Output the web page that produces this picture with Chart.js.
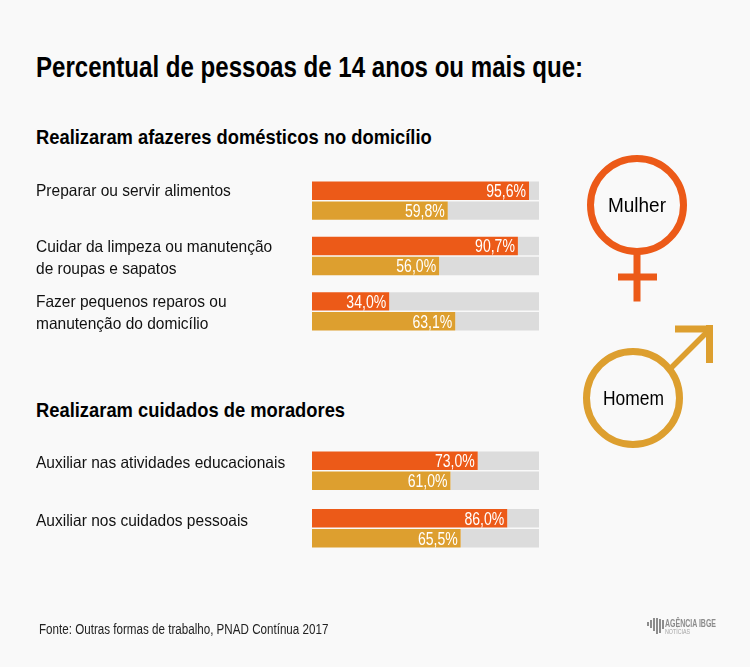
<!DOCTYPE html>
<html>
<head>
<meta charset="utf-8">
<script src="https://cdn.jsdelivr.net/npm/chart.js@4/dist/chart.umd.min.js"></script>
<style>
  html, body { margin: 0; padding: 0; background: #f9f9f9; }
  body { position: relative; width: 750px; height: 667px; overflow: hidden; font-family: "Liberation Sans", sans-serif; color: #000; }
  .txt { position: absolute; white-space: nowrap; transform-origin: left top; }
  canvas { position: absolute; left: 0; }
  svg { position: absolute; left: 0; top: 0; }
</style>
</head>
<body>
<div class="txt" style="left:36px;top:51px;font-size:29px;font-weight:bold;transform:scaleX(0.83)">Percentual de pessoas de 14 anos ou mais que:</div>
<div class="txt" style="left:36px;top:125px;font-size:21px;font-weight:bold;transform:scaleX(0.874)">Realizaram afazeres domésticos no domicílio</div>
<div class="txt" style="left:36px;top:398px;font-size:21px;font-weight:bold;transform:scaleX(0.874)">Realizaram cuidados de moradores</div>

<canvas id="grafica1" width="750" height="166" style="top:173px"></canvas>
<canvas id="grafica2" width="750" height="115" style="top:442px"></canvas>

<svg width="750" height="667" font-family="Liberation Sans">
  <circle cx="637" cy="205" r="46.5" fill="none" stroke="#ec5a18" stroke-width="7"/>
  <path d="M637 254V301.5M618 277H657" fill="none" stroke="#ec5a18" stroke-width="7"/>
  <circle cx="633" cy="398" r="46.5" fill="none" stroke="#dd9f2f" stroke-width="7"/>
  <path d="M671 368L709 330" fill="none" stroke="#dd9f2f" stroke-width="5.5"/>
  <path d="M675 329H713M709.5 325V363" fill="none" stroke="#dd9f2f" stroke-width="7"/>
  <text x="608" y="212" font-size="20" textLength="58" lengthAdjust="spacingAndGlyphs">Mulher</text>
  <text x="603" y="405" font-size="20" textLength="61" lengthAdjust="spacingAndGlyphs">Homem</text>
  <g fill="#8c8c8c">
    <rect x="647" y="622" width="2" height="4"/><rect x="650" y="620" width="2" height="8"/>
    <rect x="653" y="618" width="2" height="13"/><rect x="656" y="618" width="2" height="16"/>
    <rect x="659" y="619" width="2" height="14"/><rect x="662" y="620" width="2" height="9"/>
  </g>
  <text x="665" y="627" font-size="10" font-weight="bold" fill="#8c8c8c" textLength="51" lengthAdjust="spacingAndGlyphs">AGÊNCIA IBGE</text>
  <text x="665" y="634" font-size="7" fill="#a5a5a5" textLength="25" lengthAdjust="spacingAndGlyphs">NOTÍCIAS</text>
</svg>

<div class="txt" style="left:39px;top:621px;font-size:14px;color:#222;transform:scaleX(0.83)">Fonte: Outras formas de trabalho, PNAD Contínua 2017</div>

<script>
var afazeres = [
  ["Preparar ou servir alimentos", ""],
  ["Cuidar da limpeza ou manutenção", "de roupas e sapatos"],
  ["Fazer pequenos reparos ou", "manutenção do domicílio"]
];
var afazeresMulher = [95.6, 90.7, 34.0];
var afazeresHomem = [59.8, 56.0, 63.1];

var cuidados = [
  ["Auxiliar nas atividades educacionais", ""],
  ["Auxiliar nos cuidados pessoais", ""]
];
var cuidadosMulher = [73.0, 86.0];
var cuidadosHomem = [61.0, 65.5];

var corMulher = "#ec5a18";
var corHomem = "#dd9f2f";
var corResto = "#dcdcdc";

// texto estreito: nao ha fonte condensada instalada, entao escala em x
function textoEstreito(ctx, texto, x, y, escala){
  ctx.save();
  ctx.translate(x, y);
  ctx.scale(escala, 1);
  ctx.fillText(texto, 0, 0);
  ctx.restore();
}

var rotulos = {
  id: "rotulos",
  afterDatasetsDraw: function(chart, args, opts){
    var ctx = chart.ctx;
    ctx.save();
    ctx.textBaseline = "middle";

    // valores dentro da barra
    ctx.font = "18px 'Liberation Sans'";
    ctx.fillStyle = "#fff";
    ctx.textAlign = "right";
    chart.data.datasets.forEach(function(ds, i){
      if(!ds.comRotulo) return;
      chart.getDatasetMeta(i).data.forEach(function(bar, j){
        textoEstreito(ctx, ds.data[j].toFixed(1).replace(".", ",") + "%", bar.x - 3, bar.y + 1.5, 0.78);
      });
    });

    // categorias a esquerda
    ctx.font = "16.5px 'Liberation Sans'";
    ctx.fillStyle = "#111";
    ctx.textAlign = "left";
    var y = chart.scales.y;
    chart.data.labels.forEach(function(linhas, i){
      var centro = y.getPixelForTick(i);
      linhas.forEach(function(linha, k){
        textoEstreito(ctx, linha, 36, centro + 2 + (k - 0.5) * opts.alturaLinha, 0.94);
      });
    });
    ctx.restore();
  }
};

function resto(valores){
  return valores.map(function(v){ return 100 - v; });
}

function grafica(id, labels, mulher, homem, catPct, alturaLinha){
  function serie(nome, dados, cor, pilha, comRotulo){
    return {
      label: nome,
      data: dados,
      backgroundColor: cor,
      stack: pilha,
      comRotulo: comRotulo,
      categoryPercentage: catPct,
      barPercentage: 0.925
    };
  }
  return new Chart(document.getElementById(id), {
    type: "bar",
    data: {
      labels: labels,
      datasets: [
        serie("Mulher", mulher, corMulher, "m", true),
        serie("", resto(mulher), corResto, "m", false),
        serie("Homem", homem, corHomem, "h", true),
        serie("", resto(homem), corResto, "h", false)
      ]
    },
    options: {
      indexAxis: "y",
      responsive: false,
      animation: false,
      layout: { padding: { left: 36, right: 211, top: 0, bottom: 0 } },
      plugins: {
        legend: { display: false },
        tooltip: { enabled: false },
        rotulos: { alturaLinha: alturaLinha }
      },
      scales: {
        x: { display: false, stacked: true, min: 0, max: 100 },
        y: {
          stacked: true,
          grid: { display: false },
          border: { display: false },
          ticks: { display: false },
          afterFit: function(axis){ axis.width = 276; }
        }
      }
    },
    plugins: [rotulos]
  });
}

grafica("grafica1", afazeres, afazeresMulher, afazeresHomem, 40 / 55.5, 22);
grafica("grafica2", cuidados, cuidadosMulher, cuidadosHomem, 40 / 57.5, 18);
</script>
</body>
</html>
